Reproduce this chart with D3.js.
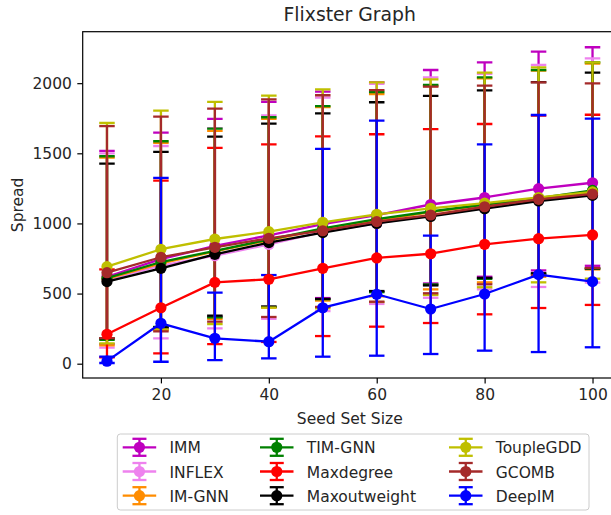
<!DOCTYPE html>
<html>
<head>
<meta charset="utf-8">
<script src="https://cdn.jsdelivr.net/npm/d3@7"></script>
<style>
  html, body { margin: 0; padding: 0; background: #fff; overflow: hidden; }
  svg { display: block; font-family: "DejaVu Sans", sans-serif; }
</style>
</head>
<body>
<svg id="chart" width="611" height="515"></svg>
<script>
// Seed set sizes on the x axis
const seedSizes = [10, 20, 30, 40, 50, 60, 70, 80, 90, 100];
const xTicks = [20, 40, 60, 80, 100];
const yTicks = [0, 500, 1000, 1500, 2000];

// Mean spread per method, with lower / upper error-bar ends
const immMean = [620, 745, 840, 915, 995, 1060, 1135, 1185, 1248, 1290];
const immLo   = [140, 250, 335, 405, 468, 513, 572, 620, 665, 698];
const immHi   = [1517, 1647, 1745, 1866, 1940, 2006, 2094, 2149, 2225, 2256];

const inflexMean = [600, 700, 770, 850, 940, 1000, 1060, 1110, 1165, 1210];
const inflexLo   = [114, 181, 252, 320, 375, 426, 470, 530, 547, 578];
const inflexHi   = [1500, 1552, 1680, 1771, 1897, 1995, 2042, 2066, 2130, 2177];

const imgnnMean = [605, 715, 800, 880, 960, 1020, 1080, 1130, 1175, 1225];
const imgnnLo   = [130, 240, 320, 400, 450, 480, 530, 580, 620, 672];
const imgnnHi   = [1470, 1575, 1660, 1745, 1830, 1923, 1980, 2035, 2090, 2140];

const timgnnMean = [610, 725, 805, 885, 965, 1030, 1085, 1135, 1180, 1235];
const timgnnLo   = [170, 262, 330, 405, 460, 510, 565, 605, 640, 677];
const timgnnHi   = [1479, 1586, 1676, 1757, 1837, 1937, 1987, 2042, 2094, 2149];

const maxdegMean = [210, 399, 580, 602, 680, 754, 784, 851, 891, 918];
const maxdegLo   = [45, 74, 140, 155, 197, 264, 290, 352, 397, 419];
const maxdegHi   = [673, 1305, 1538, 1564, 1621, 1636, 1673, 1709, 1768, 1775];

const maxoutMean = [585, 680, 780, 863, 935, 1000, 1050, 1105, 1160, 1200];
const maxoutLo   = [181, 258, 342, 407, 462, 518, 558, 612, 645, 680];
const maxoutHi   = [1426, 1510, 1619, 1711, 1785, 1864, 1909, 1949, 2008, 2075];

const toupleMean = [692, 816, 889, 941, 1008, 1065, 1108, 1145, 1185, 1225];
const toupleLo   = [145, 245, 283, 400, 395, 440, 490, 545, 580, 606];
const toupleHi   = [1716, 1804, 1866, 1911, 1956, 2006, 2027, 2075, 2113, 2149];

const gcombMean = [649, 759, 830, 894, 948, 1013, 1060, 1119, 1172, 1210];
const gcombLo   = [182, 230, 300, 333, 405, 442, 502, 566, 630, 682];
const gcombHi   = [1694, 1761, 1818, 1885, 1914, 1951, 1975, 1982, 2005, 1999];

const deepimMean = [18, 288, 181, 157, 399, 495, 390, 497, 635, 585];
const deepimLo   = [5, 14, 26, 38, 50, 57, 69, 93, 83, 117];
const deepimHi   = [50, 1325, 506, 632, 1531, 1733, 913, 1564, 1773, 1747];

const methodNames  = ["IMM", "INFLEX", "IM-GNN", "TIM-GNN", "Maxdegree", "Maxoutweight", "ToupleGDD", "GCOMB", "DeepIM"];
const methodColors = ["#bf00bf", "#ee82ee", "#ff8c00", "#008000", "#ff0000", "#000000", "#bfbf00", "#a52a2a", "#0000ff"];

const series = [
  [immMean, immLo, immHi],
  [inflexMean, inflexLo, inflexHi],
  [imgnnMean, imgnnLo, imgnnHi],
  [timgnnMean, timgnnLo, timgnnHi],
  [maxdegMean, maxdegLo, maxdegHi],
  [maxoutMean, maxoutLo, maxoutHi],
  [toupleMean, toupleLo, toupleHi],
  [gcombMean, gcombLo, gcombHi],
  [deepimMean, deepimLo, deepimHi]
].map(([mean, lo, hi], i) => ({
  name: methodNames[i],
  color: methodColors[i],
  points: seedSizes.map((s, j) => ({ x: s, y: mean[j], lo: lo[j], hi: hi[j] }))
}));

// Layout
const plot = { left: 82.7, right: 616.8, top: 31.7, bottom: 378 };
const svg = d3.select("#chart");

const x = d3.scaleLinear().domain([5.5, 104.5]).range([plot.left, plot.right]);
const y = d3.scaleLinear().domain([-102, 2367]).range([plot.bottom, plot.top]);

const fontSize = 15.5;
const lineW = 2.3;
const capHalf = 7.75;
const markerR = 5.6;

svg.append("defs").append("clipPath").attr("id", "plotClip")
  .append("rect")
  .attr("x", plot.left).attr("y", plot.top)
  .attr("width", plot.right - plot.left).attr("height", plot.bottom - plot.top);

const area = svg.append("g").attr("clip-path", "url(#plotClip)");

// Error bars (drawn beneath all lines)
const bars = area.append("g").attr("class", "errorbars");
series.forEach(s => {
  const g = bars.append("g").attr("stroke", s.color).attr("stroke-width", lineW).attr("fill", "none");
  g.selectAll("line.v").data(s.points).join("line").attr("class", "v")
    .attr("x1", d => x(d.x)).attr("x2", d => x(d.x))
    .attr("y1", d => y(d.lo)).attr("y2", d => y(d.hi));
  g.selectAll("line.capHi").data(s.points).join("line").attr("class", "capHi")
    .attr("x1", d => x(d.x) - capHalf).attr("x2", d => x(d.x) + capHalf)
    .attr("y1", d => y(d.hi)).attr("y2", d => y(d.hi));
  g.selectAll("line.capLo").data(s.points).join("line").attr("class", "capLo")
    .attr("x1", d => x(d.x) - capHalf).attr("x2", d => x(d.x) + capHalf)
    .attr("y1", d => y(d.lo)).attr("y2", d => y(d.lo));
});

// Mean lines with circle markers
const lineGen = d3.line().x(d => x(d.x)).y(d => y(d.y));
const lines = area.append("g").attr("class", "lines");
series.forEach(s => {
  const g = lines.append("g");
  g.append("path").datum(s.points)
    .attr("d", lineGen).attr("fill", "none")
    .attr("stroke", s.color).attr("stroke-width", lineW).attr("stroke-linejoin", "round");
  g.selectAll("circle").data(s.points).join("circle")
    .attr("cx", d => x(d.x)).attr("cy", d => y(d.y)).attr("r", markerR)
    .attr("fill", s.color);
});

// Axes
const xAxis = d3.axisBottom(x).tickValues(xTicks).tickSize(5.4).tickPadding(5.4).tickFormat(d3.format("d"));
const yAxis = d3.axisLeft(y).tickValues(yTicks).tickSize(5.4).tickPadding(5.4).tickFormat(d3.format("d"));

const gx = svg.append("g").attr("transform", `translate(0,${plot.bottom})`).call(xAxis);
const gy = svg.append("g").attr("transform", `translate(${plot.left},0)`).call(yAxis);
[gx, gy].forEach(g => {
  g.select(".domain").remove();
  g.selectAll(".tick line").attr("stroke", "#000").attr("stroke-width", 1.2);
  g.selectAll(".tick text").attr("fill", "#262626").style("font-size", fontSize + "px")
    .style("font-family", "DejaVu Sans");
});
gx.selectAll(".tick text").attr("dy", "0.71em");

// Spines
svg.append("rect")
  .attr("x", plot.left).attr("y", plot.top)
  .attr("width", plot.right - plot.left).attr("height", plot.bottom - plot.top)
  .attr("fill", "none").attr("stroke", "#000").attr("stroke-width", 1.2);

// Title and axis labels
svg.append("text").attr("x", (plot.left + plot.right) / 2).attr("y", 21)
  .attr("text-anchor", "middle").style("font-size", "18.8px").attr("fill", "#262626")
  .text("Flixster Graph");
svg.append("text").attr("x", (plot.left + plot.right) / 2).attr("y", 424)
  .attr("text-anchor", "middle").style("font-size", fontSize + "px").attr("fill", "#262626")
  .text("Seed Set Size");
svg.append("text")
  .attr("transform", `translate(23,${(plot.top + plot.bottom) / 2}) rotate(-90)`)
  .attr("text-anchor", "middle").style("font-size", fontSize + "px").attr("fill", "#262626")
  .text("Spread");

// Legend: three columns below the axes
const legend = svg.append("g").attr("class", "legend");
legend.append("rect")
  .attr("x", 117.3).attr("y", 434).attr("width", 471.7).attr("height", 76)
  .attr("rx", 3).attr("fill", "#fff").attr("fill-opacity", 0.8)
  .attr("stroke", "#cccccc").attr("stroke-width", 1);

const colX = [122.7, 260, 449];
const rowY = [447.3, 471.5, 495.7];
const handleLen = 33.5;
series.forEach((s, i) => {
  const cx0 = colX[Math.floor(i / 3)];
  const cy = rowY[i % 3];
  const mid = cx0 + handleLen / 2;
  const g = legend.append("g").attr("stroke", s.color).attr("stroke-width", lineW);
  g.append("line").attr("x1", mid).attr("x2", mid).attr("y1", cy - 8.5).attr("y2", cy + 8.5);
  g.append("line").attr("x1", mid - 7).attr("x2", mid + 7).attr("y1", cy - 8.5).attr("y2", cy - 8.5);
  g.append("line").attr("x1", mid - 7).attr("x2", mid + 7).attr("y1", cy + 8.5).attr("y2", cy + 8.5);
  g.append("line").attr("x1", cx0).attr("x2", cx0 + handleLen).attr("y1", cy).attr("y2", cy);
  legend.append("circle").attr("cx", mid).attr("cy", cy).attr("r", markerR).attr("fill", s.color);
  legend.append("text").attr("x", cx0 + 46.8).attr("y", cy + 6)
    .style("font-size", fontSize + "px").attr("fill", "#262626").text(s.name);
});
</script>
</body>
</html>
